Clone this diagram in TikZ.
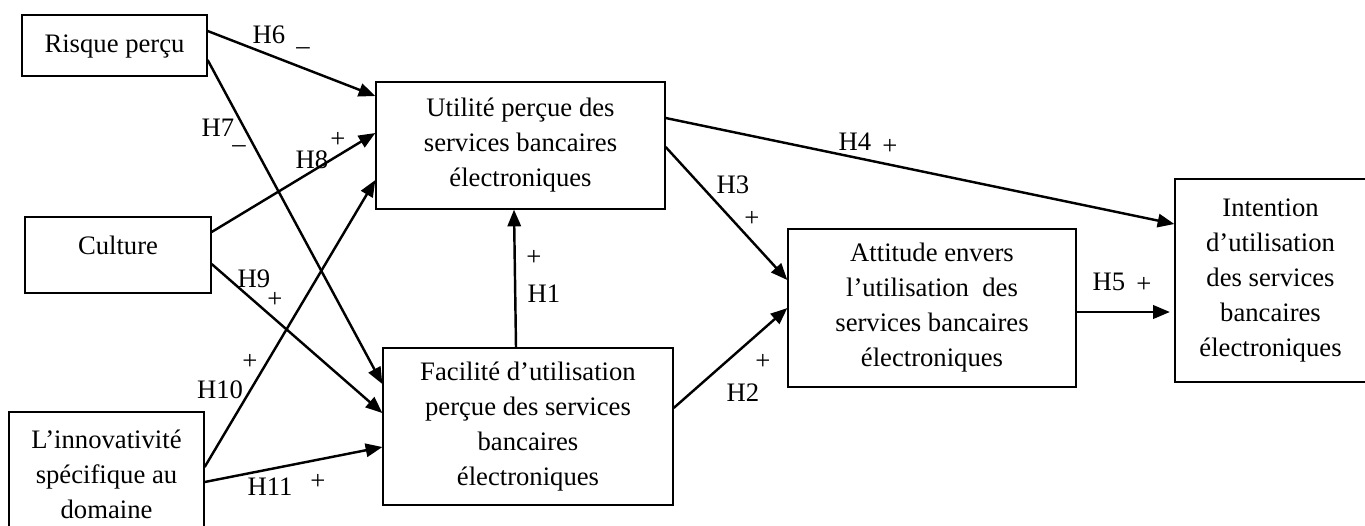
\documentclass[tikz,border=0pt]{standalone}
\usepackage{fontspec}
\setmainfont{Liberation Serif}
\usetikzlibrary{arrows.meta}

\begin{document}
\begin{tikzpicture}[x=0.45pt, y=-0.45pt,
  box/.style={draw, line width=0.6pt, align=center, inner sep=0pt, font=\fontsize{12}{15.75}\selectfont},
  link/.style={line width=1.1pt, -{Triangle[length=7.5pt, width=6pt]}},
  hyp/.style={inner sep=0pt, font=\fontsize{12}{14}\selectfont}]
\useasboundingbox (0,0) rectangle (1365,525);
\node[box, minimum width=83.25pt, minimum height=27.45pt, text depth=2pt] (risk) at (114.5,45.5) {Risque perçu};
\node[box, minimum width=83.7pt, minimum height=34.2pt, text depth=9pt] (culture) at (118,255) {Culture};
\node[box, minimum width=87.75pt, minimum height=55.8pt] (innov) at (106.5,474) {L’innovativité\\spécifique au\\domaine};
\node[box, minimum width=130.05pt, minimum height=57.15pt] (util) at (520.5,145.5) {Utilité perçue des\\services bancaires\\électroniques};
\node[box, minimum width=130.5pt, minimum height=70.65pt] (facil) at (528,426.5) {Facilité d’utilisation\\perçue des services\\bancaires\\électroniques};
\node[box, minimum width=129.6pt, minimum height=71.1pt] (attit) at (932,308) {Attitude envers\\l’utilisation\ \ des\\services bancaires\\électroniques};
\node[box, minimum width=85.95pt, minimum height=91.35pt] (inten) at (1270.5,280.5) {Intention\\d’utilisation\\des services\\bancaires\\électroniques};

\draw[link] (risk.east |- 0,31) -- (util.west |- 0,96);
\draw[link] (risk.east |- 0,60) -- (facil.west |- 0,384);
\draw[link] (culture.east |- 0,232) -- (util.west |- 0,133);
\draw[link] (culture.east |- 0,264) -- (facil.west |- 0,413);
\draw[link] (innov.east |- 0,467) -- (util.west |- 0,180);
\draw[link] (innov.east |- 0,482) -- (facil.west |- 0,447);
\draw[link] (facil.north -| 516,0) -- (util.south -| 514,0);
\draw[link] (util.east |- 0,147) -- (attit.west |- 0,280);
\draw[link] (facil.east |- 0,408) -- (attit.west |- 0,308);
\draw[link] (util.east |- 0,118) -- (inten.west |- 0,224);
\draw[link, shorten >=2pt] (attit.east |- 0,312) -- (inten.west |- 0,312);

\node[hyp] (h6) at (269,35) {H6};   \node[hyp] (s6) at (303,47) {\_};
\node[hyp] (h7) at (218,128) {H7};  \node[hyp] (s7) at (239,145) {\_};
\node[hyp] (h8) at (312,160) {H8};  \node[hyp] (s8) at (338,140) {+};
\node[hyp] (h9) at (254,279) {H9};  \node[hyp] (s9) at (275,300) {+};
\node[hyp] (h10) at (220,390) {H10}; \node[hyp] (s10) at (250,362) {+};
\node[hyp] (h11) at (270,487) {H11}; \node[hyp] (s11) at (318,482) {+};
\node[hyp] (h1) at (544,294) {H1};  \node[hyp] (s1) at (534,258) {+};
\node[hyp] (h3) at (733,185) {H3};  \node[hyp] (s3) at (752,219) {+};
\node[hyp] (h2) at (743,393) {H2};  \node[hyp] (s2) at (763,362) {+};
\node[hyp] (h4) at (855,142) {H4};  \node[hyp] (s4) at (890,147) {+};
\node[hyp] (h5) at (1109,282) {H5}; \node[hyp] (s5) at (1144,285) {+};
\end{tikzpicture}
\end{document}
